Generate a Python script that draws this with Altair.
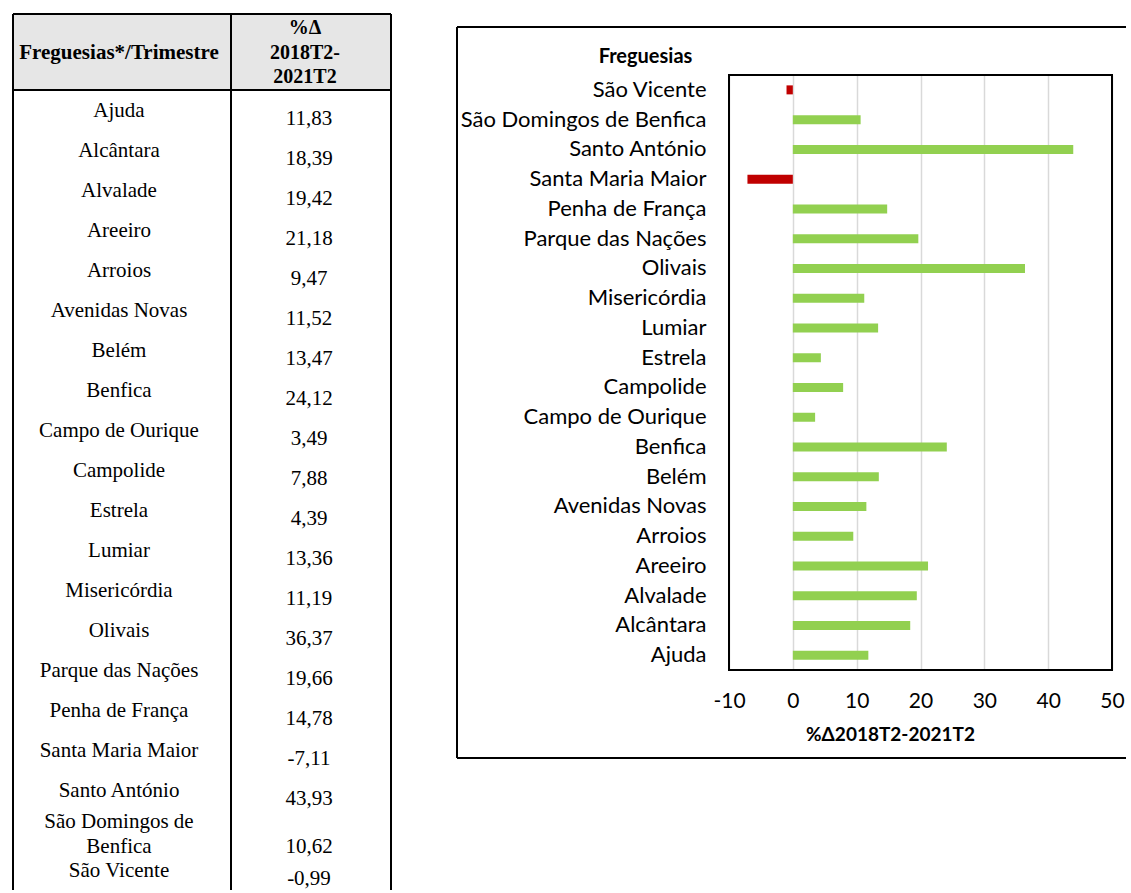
import altair as alt
import pandas as pd

# Freguesias de Lisboa e variação (%) entre 2018T2 e 2021T2
freguesias = [
    "Ajuda", "Alcântara", "Alvalade", "Areeiro", "Arroios", "Avenidas Novas",
    "Belém", "Benfica", "Campo de Ourique", "Campolide", "Estrela", "Lumiar",
    "Misericórdia", "Olivais", "Parque das Nações", "Penha de França",
    "Santa Maria Maior", "Santo António", "São Domingos de Benfica", "São Vicente",
]
variacao = [
    11.83, 18.39, 19.42, 21.18, 9.47, 11.52, 13.47, 24.12, 3.49, 7.88,
    4.39, 13.36, 11.19, 36.37, 19.66, 14.78, -7.11, 43.93, 10.62, -0.99,
]
x_ticks = [-10, 0, 10, 20, 30, 40, 50]

rotulos = [f"{v:.2f}".replace(".", ",") for v in variacao]
nomes_tabela = [n.replace(" de Benfica", " de\nBenfica") for n in freguesias]

df = pd.DataFrame({
    "freguesia": freguesias,
    "tabela": nomes_tabela,
    "variacao": variacao,
    "rotulo": rotulos,
})
one = alt.Data(values=[{}])

SERIF = "Liberation Serif"
SANS = "Lato"
TW, TH = 378, 876          # table view
BW, BH = 383, 595          # bar plot view

SINGLE = "indexof(datum.tabela, '\\n') < 0"
DOUBLE = "indexof(datum.tabela, '\\n') >= 0"


def rule(x, x2, y, y2, width=2, color="black"):
    return alt.Chart(one).mark_rule(color=color, strokeWidth=width).encode(
        x=alt.value(x), x2=alt.value(x2), y=alt.value(y), y2=alt.value(y2)
    )


# ---------------- table ----------------
col_scale = alt.Scale(type="point", domain=["freguesia", "variacao"], range=[106, 296], padding=0)
row_scale = alt.Scale(type="point", domain=freguesias, range=[97, 857], padding=0)

head_fill = alt.Chart(one).mark_rect(color="#e6e6e6").encode(
    x=alt.value(0), x2=alt.value(TW), y=alt.value(0), y2=alt.value(76)
)
head_left = alt.Chart(alt.Data(values=[{"col": "freguesia", "cab": "Freguesias*/Trimestre"}])).mark_text(
    font=SERIF, fontSize=21, fontWeight="bold", color="black", baseline="middle",
).encode(
    x=alt.X("col:N", scale=col_scale, axis=None),
    y=alt.value(39),
    text="cab:N",
)
head_right = alt.Chart(alt.Data(values=[{"col": "variacao", "cab": "%Δ\n2018T2-\n2021T2"}])).mark_text(
    font=SERIF, fontSize=20, fontWeight="bold", color="black",
    lineBreak="\n", lineHeight=24.5, baseline="middle", dx=-4,
).encode(
    x=alt.X("col:N", scale=col_scale, axis=None),
    y=alt.value(14),
    text="cab:N",
)


def cell_layer(test, column, field, dy):
    return alt.Chart(df).transform_filter(test).transform_calculate(col=f"'{column}'").mark_text(
        font=SERIF, fontSize=21, color="black", lineBreak="\n", lineHeight=25,
        baseline="middle", dy=dy,
    ).encode(
        x=alt.X("col:N", scale=col_scale, axis=None),
        y=alt.Y("freguesia:N", scale=row_scale, axis=None),
        text=f"{field}:N",
    )


names_single = cell_layer(SINGLE, "freguesia", "tabela", 0)
names_double = cell_layer(DOUBLE, "freguesia", "tabela", -9)
values_single = cell_layer(SINGLE, "variacao", "rotulo", 8)
values_double = cell_layer(DOUBLE, "variacao", "rotulo", 16)

table = alt.layer(
    head_fill, head_left, head_right,
    names_single, names_double, values_single, values_double,
    rule(0, TW, 0, 0),        # top
    rule(0, TW, 76, 76),      # below header
    rule(0, 0, 0, TH),        # left
    rule(TW, TW, 0, TH),      # right
    rule(218, 218, 0, TH),    # column divider
).properties(width=TW, height=TH)

# ---------------- bar chart ----------------
bars = alt.Chart(df).mark_bar(size=9).encode(
    x=alt.X(
        "variacao:Q",
        scale=alt.Scale(domain=[-10, 50], nice=False, zero=False),
        axis=alt.Axis(
            values=x_ticks, grid=True, gridColor="#d9d9d9", gridWidth=1.5,
            domain=False, ticks=False, tickSize=0,
            labelFont=SANS, labelFontSize=21, labelColor="black", labelPadding=20,
            labelFlush=False, labelOverlap=False,
            labelExpr="'' + datum.value",
            title="%Δ2018T2-2021T2", titleFont=SANS, titleFontSize=19,
            titleFontWeight="bold", titleColor="black",
            titleX=161, titleY=64, titleBaseline="middle",
        ),
    ),
    y=alt.Y(
        "freguesia:N",
        sort=freguesias[::-1],
        scale=alt.Scale(paddingInner=0, paddingOuter=0),
        axis=alt.Axis(
            domain=False, ticks=False, tickSize=0,
            labelFont=SANS, labelFontSize=22, labelColor="black",
            labelPadding=23, labelLimit=400,
            title="Freguesias", titleAngle=0, titleX=-84, titleY=-19,
            titleAlign="center", titleBaseline="middle",
            titleFont=SANS, titleFontSize=20, titleFontWeight="bold",
            titleColor="black",
        ),
    ),
    color=alt.condition("datum.variacao < 0", alt.value("#c00000"), alt.value("#92d050")),
)

plot_frame = alt.Chart(one).mark_rect(fill="transparent", stroke="black", strokeWidth=2).encode(
    x=alt.value(0), x2=alt.value(BW), y=alt.value(0), y2=alt.value(BH)
)

chart_box = [
    rule(-272, 397, -48, -48),
    rule(-272, 397, 683, 683),
    rule(-272, -272, -48, 683),
]

bar_chart = alt.layer(bars, plot_frame, *chart_box).properties(width=BW, height=BH)

spacer = alt.Chart(one).mark_point(opacity=0).encode(
    x=alt.value(0), y=alt.value(0)
).properties(width=1, height=61)

right = alt.vconcat(spacer, bar_chart, spacing=0, bounds="flush")

chart = alt.hconcat(table, right, spacing=338, bounds="flush").properties(
    padding={"left": 12, "top": 11, "right": 0, "bottom": 0},
    background="white",
).configure(font=SANS).configure_view(strokeWidth=0, stroke="transparent")

chart.save("out.html", embed_options={"renderer": "svg", "actions": False})
